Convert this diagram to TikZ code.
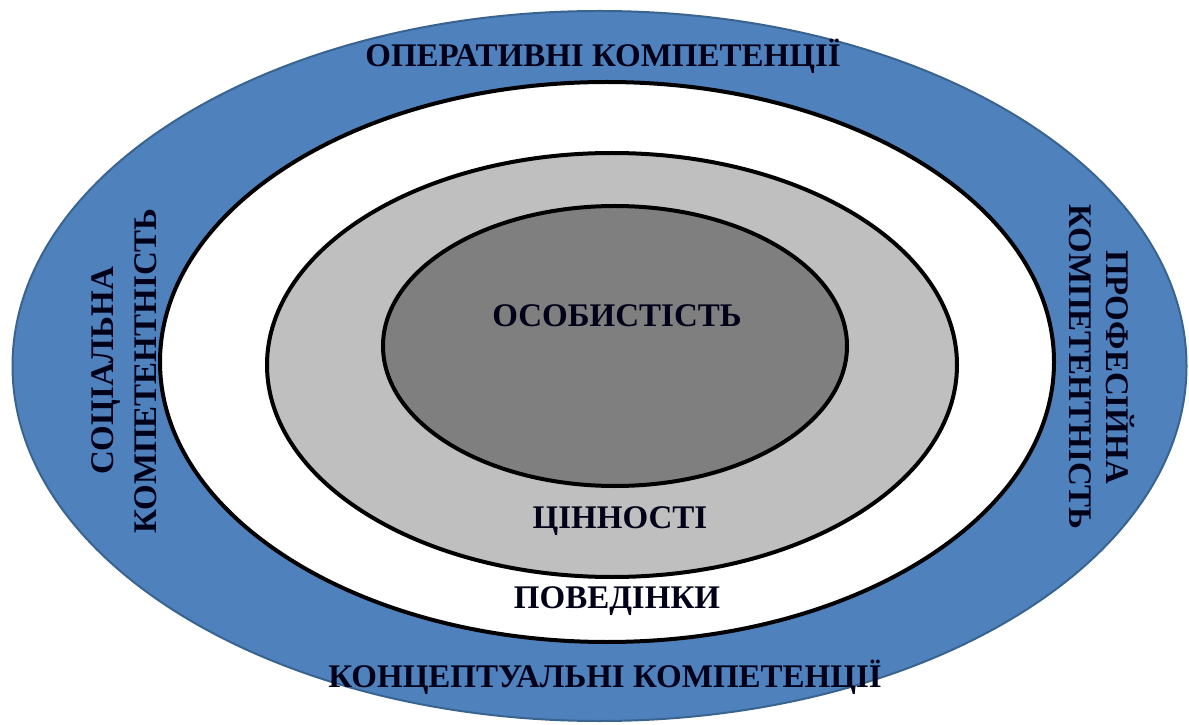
\documentclass[tikz,border=0pt]{standalone}
\usepackage{fontspec}
\setmainfont{Liberation Serif}[BoldFont={Liberation Serif Bold}]
\definecolor{ringblue}{HTML}{4F81BD}
\definecolor{ringborder}{HTML}{3A6490}
\definecolor{lightgr}{HTML}{BFBFBF}
\definecolor{darkgr}{HTML}{7F7F7F}
\tikzset{
  ring/.style={draw=black, line width=4pt},
  lbl/.style={inner sep=0pt, font=\fontsize{33}{40}\selectfont\bfseries, text=black!90!blue, align=center},
}
\begin{document}
\begin{tikzpicture}[x=1pt,y=1pt]
\useasboundingbox (0,0) rectangle (1189,724);
\fill[white] (0,0) rectangle (1189,724);
\draw[fill=ringblue, draw=ringborder, line width=2pt] (599.5,358) ellipse [x radius=587, y radius=355];
\draw[ring, fill=white] (607,362) ellipse [x radius=447, y radius=280];
\draw[ring, fill=lightgr] (612,359) ellipse [x radius=345, y radius=212];
\draw[ring, fill=darkgr] (615,378) ellipse [x radius=232, y radius=140];
\node[lbl] (oper) at (603,668) {ОПЕРАТИВНІ КОМПЕТЕНЦІЇ};
\node[lbl] (osob) at (617,408) {ОСОБИСТІСТЬ};
\node[lbl] (cinn) at (620,203) {ЦІННОСТІ};
\node[lbl] (poved) at (617,123) {ПОВЕДІНКИ};
\node[lbl] (konc) at (605,47) {КОНЦЕПТУАЛЬНІ КОМПЕТЕНЦІЇ};
\node[lbl, rotate=90, font=\fontsize{33}{43}\selectfont\bfseries] (soc) at (124,353) {СОЦІАЛЬНА\\КОМПЕТЕНТНІСТЬ};
\node[lbl, rotate=-90, font=\fontsize{33}{37}\selectfont\bfseries] (prof) at (1102,357) {ПРОФЕСІЙНА\\КОМПЕТЕНТНІСТЬ};
\end{tikzpicture}
\end{document}
